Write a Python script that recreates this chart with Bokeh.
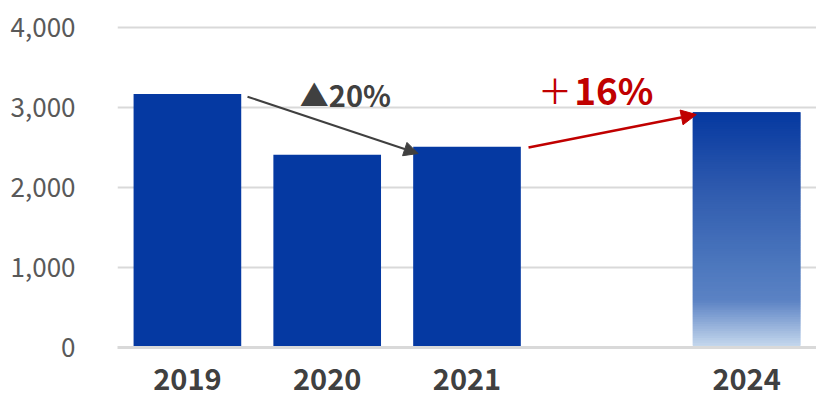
from bokeh.plotting import figure
from bokeh.models import Range1d, FixedTicker, Arrow, NormalHead, Label, NumeralTickFormatter
from bokeh.embed import file_html
from bokeh.resources import INLINE

# ---- data ----
categories = ["2019", "2020", "2021", "", "2024"]
values = [3170, 2410, 2510, None, 2940]
y_ticks = [0, 1000, 2000, 3000, 4000]
drop_label = "▲20%"
rise_label = "16%"
# gradient stops of the 2024 bar (fraction of bar height from bottom, colour)
grad_stops = [(0.0, (200, 218, 238)), (0.2, (91, 130, 196)), (0.34, (77, 120, 190)),
              (0.68, (46, 90, 174)), (1.0, (5, 56, 160))]

BLUE = "#0539A2"
GRID = "#D9D9D9"

p = figure(width=816, height=401, output_backend="svg", toolbar_location=None,
           x_range=Range1d(-0.5, 4.5), y_range=Range1d(0, 4100),
           min_border_left=117, min_border_right=0, min_border_top=19, min_border_bottom=54)
p.outline_line_color = None
p.background_fill_color = "white"
p.border_fill_color = "white"

pos = list(range(len(categories)))
bw = 0.77
solid_x = [pos[i] for i in range(4) if values[i] is not None]
solid_v = [values[i] for i in range(4) if values[i] is not None]
p.vbar(x=solid_x, top=solid_v, width=bw, fill_color=BLUE, line_color=None)

# 2024 bar with vertical gradient
def interp(f):
    for (f0, c0), (f1, c1) in zip(grad_stops[:-1], grad_stops[1:]):
        if f0 <= f <= f1:
            t = (f - f0) / (f1 - f0)
            return "#%02x%02x%02x" % tuple(int(round(a + (b - a) * t)) for a, b in zip(c0, c1))
    return "#%02x%02x%02x" % grad_stops[-1][1]

n = 100
v4 = values[4]
step = v4 / n
bots = [step * k for k in range(n)]
tops = [min(v4, step * (k + 2)) for k in range(n)]
cols = [interp((k + 0.5) / n) for k in range(n)]
p.vbar(x=[pos[4]] * n, bottom=bots, top=tops, width=bw, fill_color=cols, line_color=None)

# axes
p.xaxis.ticker = FixedTicker(ticks=[i for i in pos if categories[i]])
p.xaxis.major_label_overrides = {i: categories[i] for i in pos if categories[i]}
p.xaxis.major_label_text_font = "Noto Sans CJK JP"
p.xaxis.major_label_text_font_style = "bold"
p.xaxis.major_label_text_font_size = "29px"
p.xaxis.major_label_text_color = "#404040"
p.xaxis.major_tick_line_color = None
p.xaxis.minor_tick_line_color = None
p.xaxis.axis_line_color = GRID
p.xaxis.axis_line_width = 3
p.xaxis.major_label_standoff = 14

p.yaxis.ticker = FixedTicker(ticks=y_ticks)
p.yaxis.formatter = NumeralTickFormatter(format="0,0")
p.yaxis.major_label_text_font = "Noto Sans CJK JP"
p.yaxis.major_label_text_font_size = "26px"
p.yaxis.major_label_text_color = "#595959"
p.yaxis.axis_line_color = None
p.yaxis.major_tick_line_color = None
p.yaxis.minor_tick_line_color = None
p.yaxis.major_label_standoff = 36

p.xgrid.grid_line_color = None
p.ygrid.grid_line_color = GRID
p.ygrid.grid_line_width = 2

# arrows
a1 = Arrow(end=NormalHead(size=14, fill_color="#404040", line_color="#404040"),
           x_start=pos[0] + 0.43, y_start=values[0] - 35,
           x_end=pos[2] - 0.35, y_end=values[2] - 85,
           line_color="#404040", line_width=2)
a2 = Arrow(end=NormalHead(size=15, fill_color="#C00000", line_color="#C00000"),
           x_start=pos[2] + 0.44, y_start=values[2] - 10,
           x_end=pos[4] - 0.36, y_end=values[4] - 28,
           line_color="#C00000", line_width=2.5)
p.add_layout(a1)
p.add_layout(a2)

p.add_layout(Label(x=1.13, y=3170, text=drop_label, text_font="Noto Sans CJK JP",
                   text_font_style="bold", text_font_size="29px", text_color="#404040",
                   text_align="center", text_baseline="middle"))
p.add_layout(Label(x=2.63, y=3230, text="＋", text_font="Noto Sans CJK JP",
                   text_font_size="34px", text_color="#C00000",
                   text_align="center", text_baseline="middle"))
p.add_layout(Label(x=3.05, y=3230, text=rise_label, text_font="Noto Sans CJK JP",
                   text_font_style="bold", text_font_size="37px", text_color="#C00000",
                   text_align="center", text_baseline="middle"))

open("out.html", "w").write(file_html(p, INLINE))
